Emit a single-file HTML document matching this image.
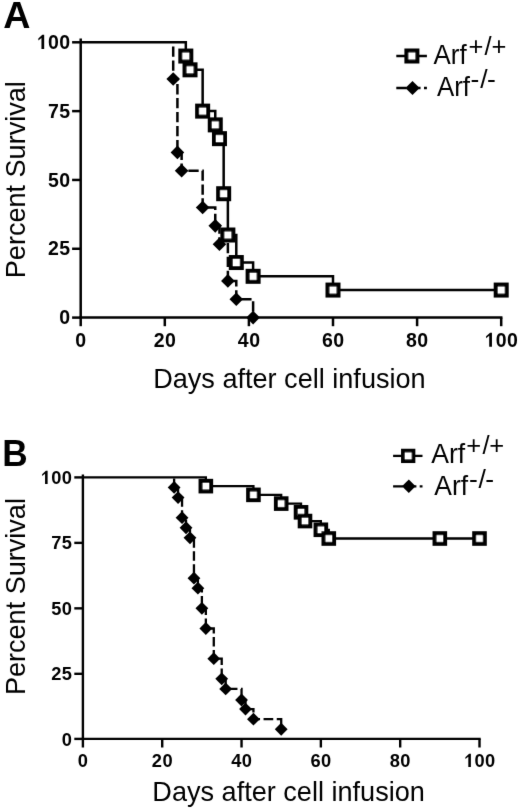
<!DOCTYPE html>
<html><head><meta charset="utf-8"><title>Survival curves</title><style>
*{margin:0;padding:0}
html,body{width:520px;height:811px;background:#fff;overflow:hidden}
svg{display:block;will-change:transform}
text{font-family:"Liberation Sans",sans-serif;fill:#000}
.tkA{font-weight:bold;font-size:19.5px}
.tkB{font-weight:bold;font-size:18.3px}
.pl{font-weight:bold;font-size:36.5px}
</style></head><body>
<svg width="520" height="811" viewBox="0 0 520 811">
<defs><filter id="soft" filterUnits="userSpaceOnUse" x="0" y="0" width="520" height="811"><feConvolveMatrix order="3" kernelMatrix="0.0052 0.0619 0.0052 0.0619 0.7314 0.0619 0.0052 0.0619 0.0052" divisor="1" edgeMode="none"/></filter></defs>
<rect width="520" height="811" fill="#fff"/>
<g filter="url(#soft)">
<path d="M80.70 38.40V317.60" stroke="#000" stroke-width="2.5" fill="none"/>
<path d="M79.45 317.60H502.45" stroke="#000" stroke-width="2.5" fill="none"/>
<path d="M72.10 317.60H80.70" stroke="#000" stroke-width="2.5" fill="none"/>
<text x="59.36" y="324.20" class="tkA" style="letter-spacing:0.5px">0</text>
<path d="M72.10 248.78H80.70" stroke="#000" stroke-width="2.5" fill="none"/>
<text x="48.02" y="255.38" class="tkA" style="letter-spacing:0.5px">25</text>
<path d="M72.10 179.95H80.70" stroke="#000" stroke-width="2.5" fill="none"/>
<text x="48.02" y="186.55" class="tkA" style="letter-spacing:0.5px">50</text>
<path d="M72.10 111.12H80.70" stroke="#000" stroke-width="2.5" fill="none"/>
<text x="48.02" y="117.72" class="tkA" style="letter-spacing:0.5px">75</text>
<path d="M72.10 42.30H80.70" stroke="#000" stroke-width="2.5" fill="none"/>
<path d="M44.18 48.90L44.18 34.86L42.33 34.86L38.33 38.47L38.33 40.42L41.45 37.88L41.45 48.90Z" fill="#000"/><text x="48.02" y="48.90" class="tkA" style="letter-spacing:0.5px">00</text>
<path d="M80.70 317.60V326.20" stroke="#000" stroke-width="2.5" fill="none"/>
<text x="75.28" y="346.80" class="tkA" style="letter-spacing:0.5px">0</text>
<path d="M164.80 317.60V326.20" stroke="#000" stroke-width="2.5" fill="none"/>
<text x="153.71" y="346.80" class="tkA" style="letter-spacing:0.5px">20</text>
<path d="M248.90 317.60V326.20" stroke="#000" stroke-width="2.5" fill="none"/>
<text x="237.81" y="346.80" class="tkA" style="letter-spacing:0.5px">40</text>
<path d="M333.00 317.60V326.20" stroke="#000" stroke-width="2.5" fill="none"/>
<text x="321.91" y="346.80" class="tkA" style="letter-spacing:0.5px">60</text>
<path d="M417.10 317.60V326.20" stroke="#000" stroke-width="2.5" fill="none"/>
<text x="406.01" y="346.80" class="tkA" style="letter-spacing:0.5px">80</text>
<path d="M501.20 317.60V326.20" stroke="#000" stroke-width="2.5" fill="none"/>
<path d="M491.94 346.80L491.94 332.76L490.09 332.76L486.09 336.37L486.09 338.32L489.21 335.78L489.21 346.80Z" fill="#000"/><text x="495.78" y="346.80" class="tkA" style="letter-spacing:0.5px">00</text>
<path d="M173.21 42.30H173.21V79.01H177.42V152.42H181.62V170.77H202.65V207.48H215.26V225.83H219.47V244.19H227.88V280.89H236.29V299.25H253.11V317.60" stroke="#000" stroke-width="2.5" fill="none" stroke-dasharray="10.3 3.65" stroke-dashoffset="93.51"/>
<path d="M80.70 42.30H185.82V56.06H190.03V69.83H202.65V111.12H215.26V124.89H219.47V138.66H223.67V193.72H227.88V235.01H236.29V262.54H253.11V276.31H333.00V290.07H501.20V290.07" stroke="#000" stroke-width="2.5" fill="none"/>
<path d="M173.21 72.21L180.01 79.01L173.21 85.81L166.41 79.01Z" fill="#000"/>
<path d="M177.42 145.62L184.22 152.42L177.42 159.22L170.62 152.42Z" fill="#000"/>
<path d="M181.62 163.97L188.42 170.77L181.62 177.57L174.82 170.77Z" fill="#000"/>
<path d="M202.65 200.68L209.45 207.48L202.65 214.28L195.84 207.48Z" fill="#000"/>
<path d="M215.26 219.03L222.06 225.83L215.26 232.63L208.46 225.83Z" fill="#000"/>
<path d="M219.47 237.39L226.27 244.19L219.47 250.99L212.67 244.19Z" fill="#000"/>
<path d="M227.88 274.09L234.68 280.89L227.88 287.69L221.07 280.89Z" fill="#000"/>
<path d="M236.29 292.45L243.09 299.25L236.29 306.05L229.49 299.25Z" fill="#000"/>
<path d="M253.11 310.80L259.91 317.60L253.11 324.40L246.31 317.60Z" fill="#000"/>
<rect x="180.32" y="50.56" width="11.00" height="11.00" fill="#fff" stroke="#000" stroke-width="4.0"/>
<rect x="184.53" y="64.33" width="11.00" height="11.00" fill="#fff" stroke="#000" stroke-width="4.0"/>
<rect x="197.15" y="105.62" width="11.00" height="11.00" fill="#fff" stroke="#000" stroke-width="4.0"/>
<rect x="209.76" y="119.39" width="11.00" height="11.00" fill="#fff" stroke="#000" stroke-width="4.0"/>
<rect x="213.97" y="133.16" width="11.00" height="11.00" fill="#fff" stroke="#000" stroke-width="4.0"/>
<rect x="218.17" y="188.22" width="11.00" height="11.00" fill="#fff" stroke="#000" stroke-width="4.0"/>
<rect x="222.38" y="229.51" width="11.00" height="11.00" fill="#fff" stroke="#000" stroke-width="4.0"/>
<rect x="230.79" y="257.04" width="11.00" height="11.00" fill="#fff" stroke="#000" stroke-width="4.0"/>
<rect x="247.61" y="270.81" width="11.00" height="11.00" fill="#fff" stroke="#000" stroke-width="4.0"/>
<rect x="327.50" y="284.57" width="11.00" height="11.00" fill="#fff" stroke="#000" stroke-width="4.0"/>
<rect x="495.70" y="284.57" width="11.00" height="11.00" fill="#fff" stroke="#000" stroke-width="4.0"/>
<path d="M82.90 474.60V738.90" stroke="#000" stroke-width="2.4" fill="none"/>
<path d="M81.70 738.90H480.70" stroke="#000" stroke-width="2.4" fill="none"/>
<path d="M74.30 738.90H82.90" stroke="#000" stroke-width="2.4" fill="none"/>
<text x="61.73" y="745.50" class="tkB" style="letter-spacing:0.4px">0</text>
<path d="M74.30 673.82H82.90" stroke="#000" stroke-width="2.4" fill="none"/>
<text x="51.15" y="680.42" class="tkB" style="letter-spacing:0.4px">25</text>
<path d="M74.30 608.35H82.90" stroke="#000" stroke-width="2.4" fill="none"/>
<text x="51.15" y="614.95" class="tkB" style="letter-spacing:0.4px">50</text>
<path d="M74.30 542.88H82.90" stroke="#000" stroke-width="2.4" fill="none"/>
<text x="51.15" y="549.48" class="tkB" style="letter-spacing:0.4px">75</text>
<path d="M74.30 477.40H82.90" stroke="#000" stroke-width="2.4" fill="none"/>
<path d="M47.62 484.00L47.62 470.82L45.88 470.82L42.13 474.21L42.13 476.04L45.06 473.66L45.06 484.00Z" fill="#000"/><text x="51.15" y="484.00" class="tkB" style="letter-spacing:0.4px">00</text>
<path d="M82.90 738.90V747.50" stroke="#000" stroke-width="2.4" fill="none"/>
<text x="77.81" y="767.00" class="tkB" style="letter-spacing:0.4px">0</text>
<path d="M162.22 738.90V747.50" stroke="#000" stroke-width="2.4" fill="none"/>
<text x="151.85" y="767.00" class="tkB" style="letter-spacing:0.4px">20</text>
<path d="M241.54 738.90V747.50" stroke="#000" stroke-width="2.4" fill="none"/>
<text x="231.17" y="767.00" class="tkB" style="letter-spacing:0.4px">40</text>
<path d="M320.86 738.90V747.50" stroke="#000" stroke-width="2.4" fill="none"/>
<text x="310.49" y="767.00" class="tkB" style="letter-spacing:0.4px">60</text>
<path d="M400.18 738.90V747.50" stroke="#000" stroke-width="2.4" fill="none"/>
<text x="389.81" y="767.00" class="tkB" style="letter-spacing:0.4px">80</text>
<path d="M479.50 738.90V747.50" stroke="#000" stroke-width="2.4" fill="none"/>
<path d="M470.88 767.00L470.88 753.82L469.14 753.82L465.39 757.21L465.39 759.04L468.32 756.66L468.32 767.00Z" fill="#000"/><text x="474.41" y="767.00" class="tkB" style="letter-spacing:0.4px">00</text>
<path d="M174.12 477.40H174.12V487.47H178.08V497.55H182.05V517.69H186.02V527.77H189.98V537.84H193.95V578.13H197.91V588.20H201.88V608.35H205.85V628.50H213.78V658.72H221.71V678.86H225.68V688.93H241.54V700.01H245.51V709.08H253.44V719.15H281.20V729.23" stroke="#000" stroke-width="2.3" fill="none" stroke-dasharray="9.7 3.5" stroke-dashoffset="91.22"/>
<path d="M82.90 477.40H205.85V486.13H253.44V494.86H281.20V503.59H301.03V512.32H305.00V521.05H320.86V529.78H328.79V538.51H439.84V538.51H479.50V538.51" stroke="#000" stroke-width="2.3" fill="none"/>
<path d="M174.12 481.07L180.52 487.47L174.12 493.87L167.72 487.47Z" fill="#000"/>
<path d="M178.08 491.15L184.48 497.55L178.08 503.95L171.68 497.55Z" fill="#000"/>
<path d="M182.05 511.29L188.45 517.69L182.05 524.09L175.65 517.69Z" fill="#000"/>
<path d="M186.02 521.37L192.42 527.77L186.02 534.17L179.62 527.77Z" fill="#000"/>
<path d="M189.98 531.44L196.38 537.84L189.98 544.24L183.58 537.84Z" fill="#000"/>
<path d="M193.95 571.73L200.35 578.13L193.95 584.53L187.55 578.13Z" fill="#000"/>
<path d="M197.91 581.80L204.31 588.20L197.91 594.60L191.51 588.20Z" fill="#000"/>
<path d="M201.88 601.95L208.28 608.35L201.88 614.75L195.48 608.35Z" fill="#000"/>
<path d="M205.85 622.10L212.25 628.50L205.85 634.90L199.45 628.50Z" fill="#000"/>
<path d="M213.78 652.32L220.18 658.72L213.78 665.12L207.38 658.72Z" fill="#000"/>
<path d="M221.71 672.46L228.11 678.86L221.71 685.26L215.31 678.86Z" fill="#000"/>
<path d="M225.68 682.53L232.08 688.93L225.68 695.33L219.28 688.93Z" fill="#000"/>
<path d="M241.54 693.62L247.94 700.01L241.54 706.41L235.14 700.01Z" fill="#000"/>
<path d="M245.51 702.68L251.91 709.08L245.51 715.48L239.11 709.08Z" fill="#000"/>
<path d="M253.44 712.75L259.84 719.15L253.44 725.55L247.04 719.15Z" fill="#000"/>
<path d="M281.20 722.83L287.60 729.23L281.20 735.63L274.80 729.23Z" fill="#000"/>
<rect x="200.55" y="480.83" width="10.60" height="10.60" fill="#fff" stroke="#000" stroke-width="4.0"/>
<rect x="248.14" y="489.56" width="10.60" height="10.60" fill="#fff" stroke="#000" stroke-width="4.0"/>
<rect x="275.90" y="498.29" width="10.60" height="10.60" fill="#fff" stroke="#000" stroke-width="4.0"/>
<rect x="295.73" y="507.02" width="10.60" height="10.60" fill="#fff" stroke="#000" stroke-width="4.0"/>
<rect x="299.70" y="515.75" width="10.60" height="10.60" fill="#fff" stroke="#000" stroke-width="4.0"/>
<rect x="315.56" y="524.48" width="10.60" height="10.60" fill="#fff" stroke="#000" stroke-width="4.0"/>
<rect x="323.49" y="533.21" width="10.60" height="10.60" fill="#fff" stroke="#000" stroke-width="4.0"/>
<rect x="434.54" y="533.21" width="10.60" height="10.60" fill="#fff" stroke="#000" stroke-width="4.0"/>
<rect x="474.20" y="533.21" width="10.60" height="10.60" fill="#fff" stroke="#000" stroke-width="4.0"/>
<text x="3.3" y="27.8" class="pl" textLength="27.2" lengthAdjust="spacingAndGlyphs">A</text>
<text x="2.2" y="466.3" class="pl" textLength="25.4" lengthAdjust="spacingAndGlyphs">B</text>
<text x="289.4" y="388.3" style="font-size:27.8px" text-anchor="middle" textLength="272.5" lengthAdjust="spacingAndGlyphs">Days after cell infusion</text>
<text x="288.6" y="801.4" style="font-size:27.8px" text-anchor="middle" textLength="272.5" lengthAdjust="spacingAndGlyphs">Days after cell infusion</text>
<text transform="translate(25.3 179.7) rotate(-90)" style="font-size:27.8px" text-anchor="middle" textLength="197.0" lengthAdjust="spacingAndGlyphs">Percent Survival</text>
<text transform="translate(24.7 596.6) rotate(-90)" style="font-size:27.8px" text-anchor="middle" textLength="197.0" lengthAdjust="spacingAndGlyphs">Percent Survival</text>
<path d="M396.30 56.00H426.90" stroke="#000" stroke-width="2.5"/>
<rect x="406.40" y="50.50" width="11.00" height="11.00" fill="#fff" stroke="#000" stroke-width="4.0"/>
<path d="M396.30 88.00H426.90" stroke="#000" stroke-width="2.5" stroke-dasharray="10.4 3.45"/>
<path d="M412.50 80.90L419.60 88.00L412.50 95.10L405.40 88.00Z" fill="#000"/>
<path d="M393.10 455.90H422.50" stroke="#000" stroke-width="2.3"/>
<rect x="402.90" y="450.60" width="10.60" height="10.60" fill="#fff" stroke="#000" stroke-width="3.7"/>
<path d="M393.10 486.30H422.50" stroke="#000" stroke-width="2.3" stroke-dasharray="10.0 3.3"/>
<path d="M408.80 479.50L415.60 486.30L408.80 493.10L402.00 486.30Z" fill="#000"/>
<text x="433.60" y="64.00" style="font-size:27px" textLength="33.1" lengthAdjust="spacingAndGlyphs">Arf</text>
<text x="468.55 484.40 491.45" y="55.30" style="font-size:25.5px">+/+</text>
<text x="436.90" y="95.50" style="font-size:27px" textLength="33.1" lengthAdjust="spacingAndGlyphs">Arf</text>
<text x="470.40 480.30 487.00" y="88.30" style="font-size:26.5px">-/-</text>
<text x="431.20" y="462.90" style="font-size:27.2px" textLength="34.0" lengthAdjust="spacingAndGlyphs">Arf</text>
<text x="466.25 482.50 489.35" y="454.00" style="font-size:25.5px">+/+</text>
<text x="434.30" y="494.90" style="font-size:27.2px" textLength="33.8" lengthAdjust="spacingAndGlyphs">Arf</text>
<text x="469.00 478.40 485.20" y="487.60" style="font-size:26.5px">-/-</text>
</g>
</svg>
</body></html>
